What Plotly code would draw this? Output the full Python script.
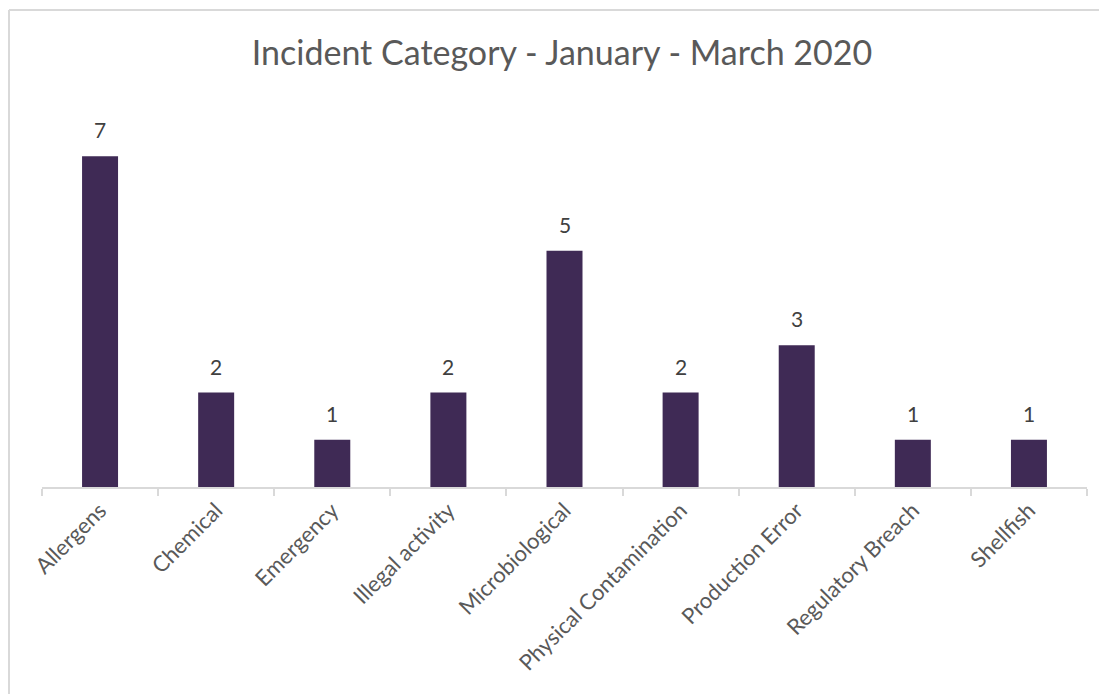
import plotly.graph_objects as go

categories = ["Allergens", "Chemical", "Emergency", "Illegal activity", "Microbiological",
              "Physical Contamination", "Production Error", "Regulatory Breach", "Shellfish"]
incidents = [7, 2, 1, 2, 5, 2, 3, 1, 1]

# page has an 8px body margin, so figure coords = page coords - 8
OFF = 8
W, H = 1107 - OFF, 694 - OFF
L, R, T, B = 42 - OFF, 20, 109 - OFF, 207
pw, ph = W - L - R, H - T - B

fig = go.Figure(go.Bar(
    x=categories, y=incidents,
    marker=dict(color="#3F2A55", line=dict(width=0)),
))

for cat, val in zip(categories, incidents):
    fig.add_annotation(x=cat, y=val, text=str(val), showarrow=False,
                       yanchor="bottom", yshift=12,
                       font=dict(size=21, color="#404040", family="Lato"))

fig.update_layout(
    width=W, height=H,
    margin=dict(l=L, r=R, t=T, b=B),
    paper_bgcolor="white", plot_bgcolor="white",
    bargap=0.69,
    showlegend=False,
    font=dict(family="Lato", color="#595959"),
    title=dict(text="Incident Category - January - March 2020",
               x=(562 - OFF) / W, xanchor="center", y=1 - (53 - OFF) / H, yanchor="middle",
               font=dict(size=34, color="#595959", family="Lato")),
    xaxis=dict(showline=True, linecolor="#D9D9D9", linewidth=2,
               ticks="outside", tickson="boundaries", ticklen=7, tickcolor="#D9D9D9",
               tickwidth=2, tickangle=-45, tickfont=dict(size=22, color="#595959"),
               showgrid=False),
    yaxis=dict(range=[0, 8], visible=False, showgrid=False, zeroline=False),
    shapes=[
        dict(type="line", xref="paper", yref="paper",
             x0=(9 - 42) / pw, x1=(W + 5 - L) / pw, y0=(487 - 10) / ph, y1=(487 - 10) / ph,
             line=dict(color="#D9D9D9", width=2)),
        dict(type="line", xref="paper", yref="paper",
             x0=(9 - 42) / pw, x1=(9 - 42) / pw, y0=(487 - 10) / ph, y1=-(B + 5) / ph,
             line=dict(color="#D9D9D9", width=2)),
    ],
)

fig.write_html("out.html")
